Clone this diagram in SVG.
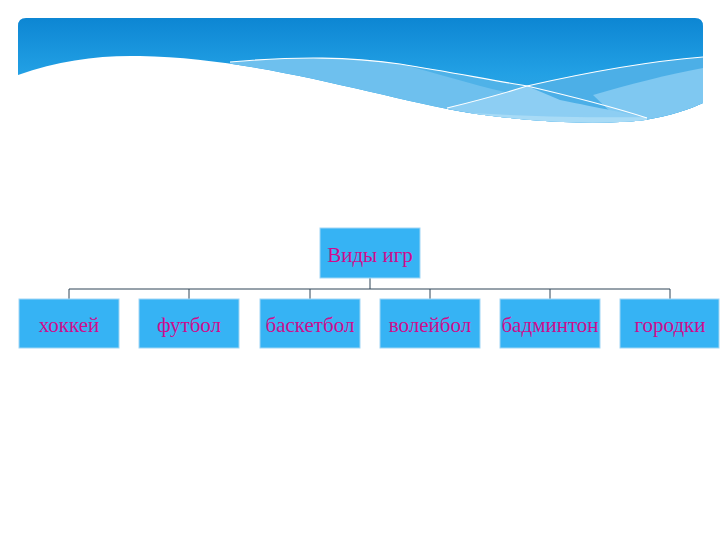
<svg xmlns="http://www.w3.org/2000/svg" width="720" height="540" viewBox="0 0 720 540">
<defs>
<linearGradient id="sky" x1="0" y1="0" x2="0" y2="1">
<stop offset="0" stop-color="#0d86d3"/>
<stop offset="0.5" stop-color="#22a0e4"/>
<stop offset="1" stop-color="#38ade9"/>
</linearGradient>
<clipPath id="bc">
<path d="M18,26 Q18,18 26,18 L695,18 Q703,18 703,26 L703,103 C690,109 670,116 645,120 C600,125 540,123 470,113 C380,98 260,58 140,56 C100,55 60,60 18,75 Z"/>
</clipPath>
<style>
.box{fill:#36b3f4;stroke:#9fd6f5;stroke-width:1}
.lbl{font-family:"Liberation Serif","Times New Roman",serif;font-size:21px;fill:#cf0c8e;text-anchor:middle}
.conn{stroke:#2e4457;stroke-width:1;fill:none}
.wl{stroke:#ffffff;stroke-width:1.1;fill:none}
</style>
</defs>
<rect width="720" height="540" fill="#ffffff"/>
<g id="banner">
<rect x="18" y="18" width="685" height="110" fill="url(#sky)" clip-path="url(#bc)"/>
<g clip-path="url(#bc)">
<path d="M230,62 C300,56 350,57 400,64 C450,72 490,80 527,86 C570,96 610,106 647,118 L647,140 L230,140 Z" fill="#6ec0ee"/>
<path d="M400,64 C450,72 490,80 527,86 C570,96 610,106 647,118 L600,114 C560,104 530,96 505,92 C470,84 440,74 400,64 Z" fill="#4fb2e8"/>
<path d="M447,108 C480,100 505,93 527,86 C580,74 640,62 703,57 L703,140 L447,140 Z" fill="#4cafe7"/>
<path d="M593,95 C630,84 670,74 703,68 L703,140 L640,140 Z" fill="#7fc8f1"/>
<path d="M447,108 C480,100 505,93 527,86 L560,100 C600,108 630,114 647,118 L647,140 L447,140 Z" fill="#8dcef3"/>
<path d="M470,113 C540,117 600,118 647,117 L647,140 L470,140 Z" fill="#a8dbf6"/>
<path class="wl" d="M230,62 C300,56 350,57 400,64 C450,72 490,80 527,86 C570,96 610,106 647,118"/>
<path class="wl" d="M447,108 C480,100 505,93 527,86 C580,74 640,62 703,57"/>
</g>
</g>
<g id="connectors">
<line class="conn" x1="370" y1="278" x2="370" y2="289"/>
<line class="conn" x1="69" y1="289" x2="670" y2="289"/>
<line class="conn" x1="69" y1="289" x2="69" y2="299"/>
<line class="conn" x1="189" y1="289" x2="189" y2="299"/>
<line class="conn" x1="310" y1="289" x2="310" y2="299"/>
<line class="conn" x1="430" y1="289" x2="430" y2="299"/>
<line class="conn" x1="550" y1="289" x2="550" y2="299"/>
<line class="conn" x1="670" y1="289" x2="670" y2="299"/>
</g>
<g id="root"><rect class="box" x="320" y="228" width="100" height="50"/><text class="lbl" x="370" y="262">Виды игр</text></g>
<g id="n1"><rect class="box" x="19" y="299" width="100" height="49"/><text class="lbl" x="69" y="332">хоккей</text></g>
<g id="n2"><rect class="box" x="139" y="299" width="100" height="49"/><text class="lbl" x="189" y="332">футбол</text></g>
<g id="n3"><rect class="box" x="260" y="299" width="100" height="49"/><text class="lbl" x="310" y="332">баскетбол</text></g>
<g id="n4"><rect class="box" x="380" y="299" width="100" height="49"/><text class="lbl" x="430" y="332">волейбол</text></g>
<g id="n5"><rect class="box" x="500" y="299" width="100" height="49"/><text class="lbl" x="550" y="332">бадминтон</text></g>
<g id="n6"><rect class="box" x="620" y="299" width="99" height="49"/><text class="lbl" x="670" y="332">городки</text></g>
</svg>
